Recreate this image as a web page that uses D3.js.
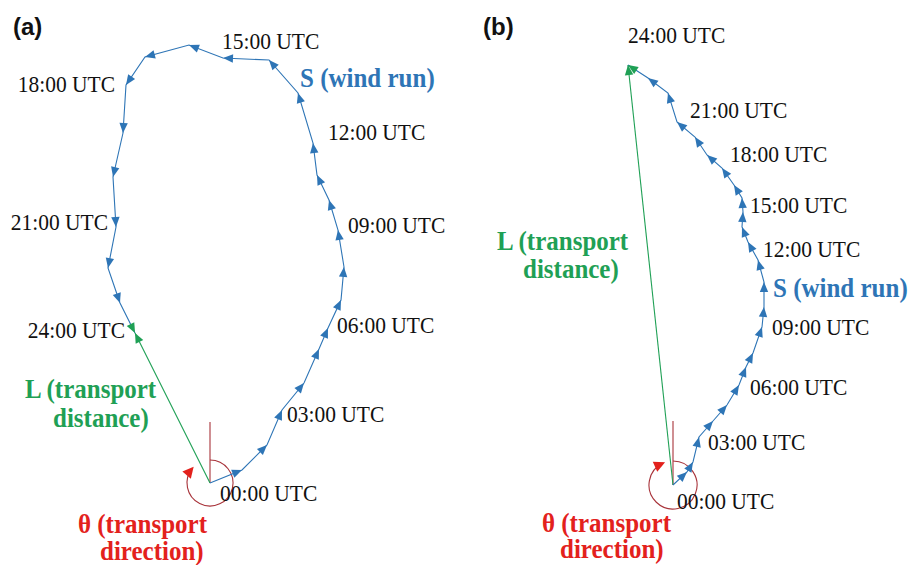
<!DOCTYPE html>
<html>
<head>
<meta charset="utf-8">
<script src="https://cdn.jsdelivr.net/npm/d3@7"></script>
<style>
    body { margin: 0; background: #ffffff; }
    svg  { display: block; }
</style>
</head>
<body>
<div id="chart"></div>
<script>

// hourly trajectory, east / north displacement from the release point (relative units)
var hours = [ '00:00', '01:00', '02:00', '03:00', '04:00', '05:00', '06:00', '07:00', '08:00',
              '09:00', '10:00', '11:00', '12:00', '13:00', '14:00', '15:00', '16:00', '17:00',
              '18:00', '19:00', '20:00', '21:00', '22:00', '23:00', '24:00' ];

var eastA  = [ 0, 32, 57, 72, 94, 109, 118, 131, 134, 128, 119, 107, 103, 88, 59, 13,
               -21, -65, -84, -87, -97, -94, -102, -90, -75 ];
var northA = [ 0, 13, 38, 73, 100, 134, 155, 183, 216, 253, 283, 308, 340, 390, 423, 425,
               438, 426, 398, 350, 306, 256, 215, 180, 150 ];

var eastB  = [ 0, 14, 20, 26, 40, 54, 66, 73, 80, 89, 91, 91, 85, 75, 69, 70,
               69, 61, 49, 34, 22, 4, -5, -25, -45 ];
var northB = [ 0, 13, 23, 48, 64, 80, 100, 118, 132, 158, 178, 203, 225, 243, 258, 273,
               287, 300, 317, 330, 348, 363, 392, 407, 420 ];

// every third hour gets a label
var labelHours = [ 0, 3, 6, 9, 12, 15, 18, 21, 24 ];

var blue  = '#2e75b6';
var green = '#1fa055';
var red   = '#e3211c';
var darkRed = '#a8333a';

var serif = '"Liberation Serif", "Times New Roman", serif';
var stretch = 1.12;   // the source text is a little taller than wide

var width = 912, height = 565;

// layout of each panel (pixels)
var panels = [
    {
        tag: '(a)', tagPos: [ 13, 35 ],
        east: eastA, north: northA,
        origin: [ 210, 483 ],
        arcR: 23, arcEnd: 310, northLen: 61,
        labelOff: [ [10, 18, 'start'], [5, 12, 'start'], [9, 5, 'start'], [10, 3, 'start'],
                    [15, -3, 'start'], [-1, -9, 'start'], [-11, 7, 'end'], [-8, 3, 'end'],
                    [-10, 5, 'end'] ],
        windRun: [ 300, 87 ],
        transport: [ [ 25, 398 ], [ 53, 427 ] ],
        direction: [ [ 78, 533 ], [ 100, 560 ] ]
    },
    {
        tag: '(b)', tagPos: [ 483, 35 ],
        east: eastB, north: northB,
        origin: [ 673, 485 ],
        arcR: 24, arcEnd: 336, northLen: 64,
        labelOff: [ [4, 24, 'start'], [9, 13, 'start'], [11, 10, 'start'], [10, 8, 'start'],
                    [5, -3, 'start'], [7, 1, 'start'], [8, -6, 'start'], [13, -4, 'start'],
                    [0, -22, 'start'] ],
        windRun: [ 773, 297 ],
        transport: [ [ 497, 250 ], [ 523, 278 ] ],
        direction: [ [ 542, 532 ], [ 560, 558 ] ]
    }
];

var svg = d3.select('#chart').append('svg')
            .attr('width', width)
            .attr('height', height);

// arrowhead with its tip at 0,0 pointing along +x
var headPath = 'M0,0 L-10,-4.2 L-10,4.2 Z';

function addText (g, x, y, str, opts)
{
    g.append('text')
     .attr('transform', 'translate(' + x + ',' + y + ') scale(1,' + stretch + ')')
     .attr('text-anchor', opts.anchor || 'start')
     .attr('font-family', serif)
     .attr('font-size', opts.size)
     .attr('font-weight', opts.bold ? 'bold' : 'normal')
     .attr('fill', opts.fill || '#111111')
     .text(str);
}

panels.forEach(function (p)
{
    var g = svg.append('g');

    // one unit of displacement = one pixel, north is up
    var xScale = d3.scaleLinear().domain([ -200, 200 ]).range([ p.origin[0] - 200, p.origin[0] + 200 ]);
    var yScale = d3.scaleLinear().domain([ -200, 500 ]).range([ p.origin[1] + 200, p.origin[1] - 500 ]);

    var pts = p.east.map(function (e, i) { return [ xScale(e), yScale(p.north[i]) ]; });
    var last = pts[pts.length - 1];
    var o = [ xScale(0), yScale(0) ];

    // north reference line
    g.append('line')
     .attr('x1', o[0]).attr('y1', o[1])
     .attr('x2', o[0]).attr('y2', yScale(p.northLen))
     .attr('stroke', darkRed).attr('stroke-width', 1.1);

    // transport direction arc, clockwise from north
    var a1 = p.arcEnd * Math.PI / 180;
    var arc = d3.path();
    arc.arc(o[0], o[1], p.arcR, -Math.PI / 2, a1 - Math.PI / 2);
    g.append('path')
     .attr('d', arc.toString())
     .attr('fill', 'none')
     .attr('stroke', darkRed).attr('stroke-width', 1.1);

    var ax = o[0] + p.arcR * Math.sin(a1);
    var ay = o[1] - p.arcR * Math.cos(a1);
    var tang = (p.arcEnd) ;   // tangent of a clockwise arc, screen degrees
    g.append('path')
     .attr('d', 'M2,0 L-9,-5.5 L-9,5.5 Z')
     .attr('transform', 'translate(' + ax + ',' + ay + ') rotate(' + tang + ')')
     .attr('fill', red);

    // transport distance L
    g.append('line')
     .attr('x1', o[0]).attr('y1', o[1])
     .attr('x2', last[0]).attr('y2', last[1])
     .attr('stroke', green).attr('stroke-width', 1.1);

    var angL = Math.atan2(last[1] - o[1], last[0] - o[0]) * 180 / Math.PI;
    g.append('path')
     .attr('d', headPath)
     .attr('transform', 'translate(' + last[0] + ',' + last[1] + ') rotate(' + angL + ')')
     .attr('fill', green);

    // wind run S
    g.append('path')
     .datum(pts)
     .attr('d', d3.line())
     .attr('fill', 'none')
     .attr('stroke', blue).attr('stroke-width', 1.1);

    g.selectAll('path.head')
     .data(pts.slice(1))
     .enter()
     .append('path')
     .attr('class', 'head')
     .attr('d', headPath)
     .attr('transform', function (d, i)
     {
         var prev = pts[i];
         var ang = Math.atan2(d[1] - prev[1], d[0] - prev[0]) * 180 / Math.PI;
         return 'translate(' + d[0] + ',' + d[1] + ') rotate(' + ang + ')';
     })
     .attr('fill', function (d, i) { return i == pts.length - 2 ? green : blue; });

    // hour labels
    labelHours.forEach(function (h, k)
    {
        var off = p.labelOff[k];
        addText(g, pts[h][0] + off[0], pts[h][1] + off[1], hours[h] + ' UTC',
                { size: 21.5, anchor: off[2] });
    });

    addText(g, p.windRun[0], p.windRun[1], 'S (wind run)', { size: 25, bold: true, fill: blue });
    addText(g, p.transport[0][0], p.transport[0][1], 'L (transport', { size: 25, bold: true, fill: green });
    addText(g, p.transport[1][0], p.transport[1][1], 'distance)', { size: 25, bold: true, fill: green });
    addText(g, p.direction[0][0], p.direction[0][1], '\u03b8 (transport', { size: 25, bold: true, fill: red });
    addText(g, p.direction[1][0], p.direction[1][1], 'direction)', { size: 25, bold: true, fill: red });

    g.append('text')
     .attr('x', p.tagPos[0]).attr('y', p.tagPos[1])
     .attr('font-family', '"Liberation Sans", Arial, sans-serif')
     .attr('font-size', 24)
     .attr('font-weight', 'bold')
     .attr('fill', '#111111')
     .text(p.tag);
});

</script>
</body>
</html>
